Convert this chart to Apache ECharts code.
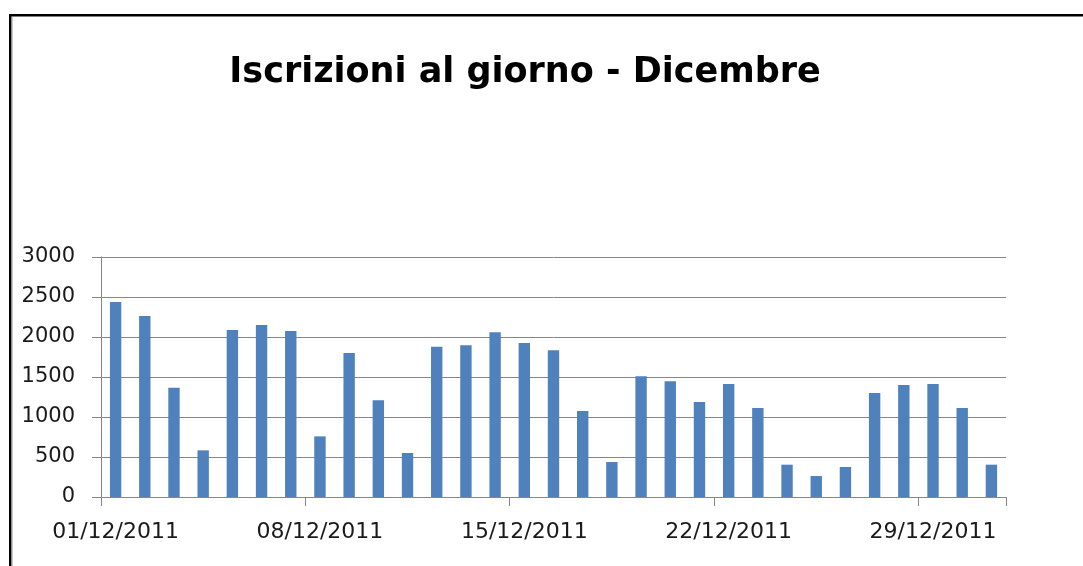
<!DOCTYPE html>
<html>
<head>
<meta charset="utf-8">
<script src="https://cdn.jsdelivr.net/npm/echarts@6/dist/echarts.min.js"></script>
<style>
html,body{margin:0;padding:0;background:#fff;}
#chart{width:1083px;height:566px;}
</style>
</head>
<body>
<div id="chart"></div>
<script>
var titleText = "Iscrizioni al giorno - Dicembre";
var categories = [
  "01/12/2011","02/12/2011","03/12/2011","04/12/2011","05/12/2011","06/12/2011","07/12/2011",
  "08/12/2011","09/12/2011","10/12/2011","11/12/2011","12/12/2011","13/12/2011","14/12/2011",
  "15/12/2011","16/12/2011","17/12/2011","18/12/2011","19/12/2011","20/12/2011","21/12/2011",
  "22/12/2011","23/12/2011","24/12/2011","25/12/2011","26/12/2011","27/12/2011","28/12/2011",
  "29/12/2011","30/12/2011","31/12/2011"
];
var iscrizioni = [
  2437, 2262, 1366, 583, 2087, 2150, 2075,
  758, 1800, 1208, 550, 1879, 1896, 2058,
  1925, 1833, 1075, 437, 1508, 1446, 1187,
  1412, 1112, 404, 262, 375, 1300, 1400,
  1412, 1112, 404
];
var yTicks = [0, 500, 1000, 1500, 2000, 2500, 3000];

var chart = echarts.init(document.getElementById('chart'));
var axisGrey = '#868686';
var labelFont = 'DejaVu Sans';
chart.setOption({
  animation: false,
  backgroundColor: '#ffffff',
  title: {
    text: titleText,
    left: 520,
    top: 50,
    textAlign: 'center',
    textStyle: {
      fontFamily: 'DejaVu Sans',
      fontWeight: 'bold',
      fontSize: 35,
      color: '#000000'
    }
  },
  grid: {
    left: 101,
    right: 77,
    top: 257,
    bottom: 69,
    containLabel: false
  },
  xAxis: {
    type: 'category',
    data: categories,
    boundaryGap: true,
    axisLine: { show: true, lineStyle: { color: axisGrey, width: 1 } },
    axisTick: { show: true, interval: 6, length: 9, lineStyle: { color: axisGrey } },
    axisLabel: {
      interval: 6,
      margin: 24,
      fontFamily: labelFont,
      fontSize: 22,
      color: '#1a1a1a'
    },
    splitLine: { show: false }
  },
  yAxis: {
    type: 'value',
    min: yTicks[0],
    max: yTicks[yTicks.length - 1],
    interval: 500,
    axisLine: { show: true, lineStyle: { color: axisGrey, width: 1 } },
    axisTick: { show: true, length: 9, inside: false, lineStyle: { color: axisGrey } },
    axisLabel: {
      margin: 26,
      fontFamily: labelFont,
      fontSize: 21,
      color: '#1a1a1a',
      formatter: function (v) { return String(v); }
    },
    splitLine: { show: true, lineStyle: { color: axisGrey, width: 1 } }
  },
  series: [{
    type: 'bar',
    data: iscrizioni,
    barWidth: '39%',
    itemStyle: { color: '#4F81BD' }
  }],
  graphic: [
    {
      type: 'rect',
      shape: { x: 10.25, y: 15.25, width: 1200, height: 700 },
      style: { fill: null, stroke: '#000000', lineWidth: 2.5 },
      silent: true
    },
    {
      type: 'line',
      shape: { x1: 12, y1: 16.5, x2: 12, y2: 566 },
      style: { stroke: '#9a9a9a', lineWidth: 1 },
      silent: true
    }
  ]
});
</script>
</body>
</html>
